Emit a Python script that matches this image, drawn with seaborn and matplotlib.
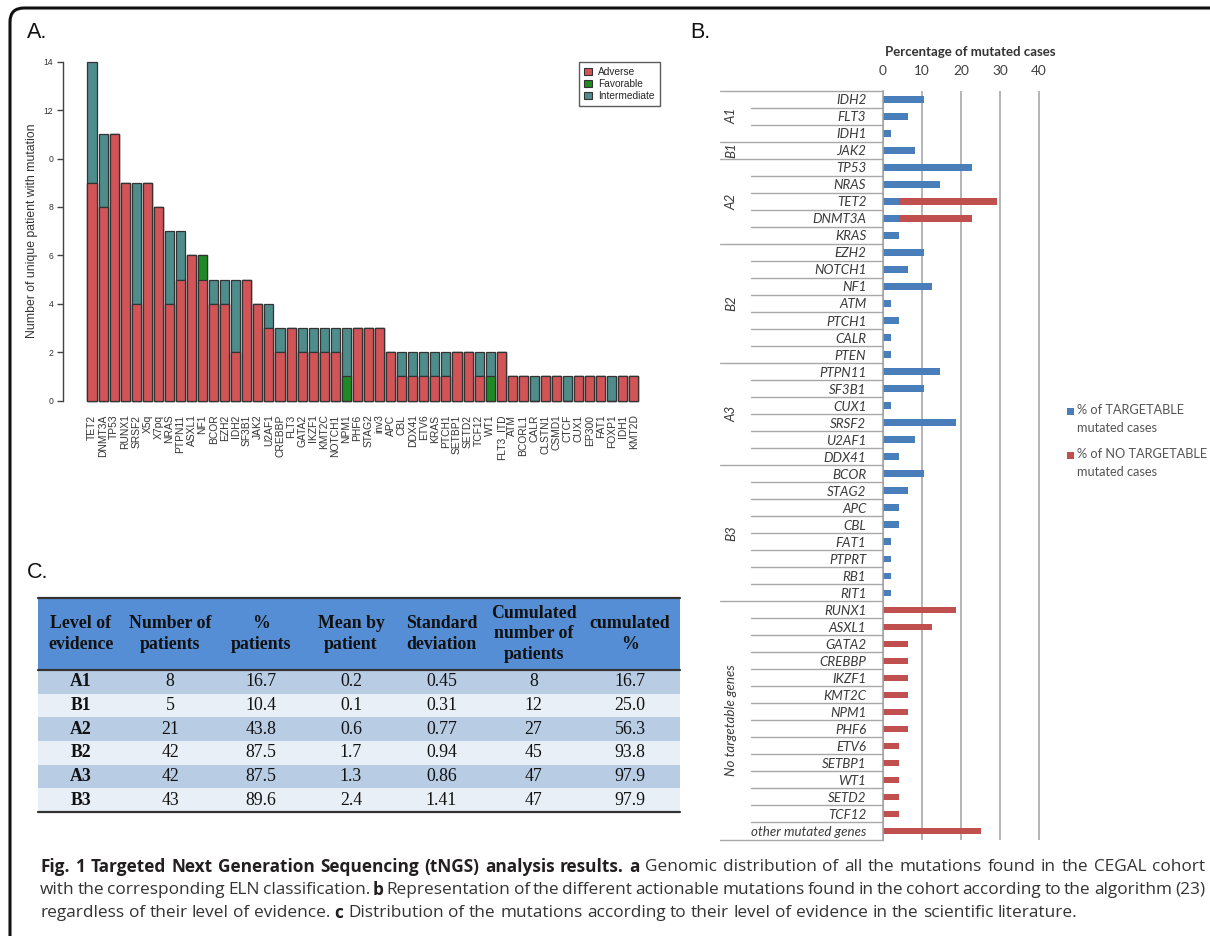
import numpy as np
import pandas as pd
import matplotlib
matplotlib.use("Agg")
import matplotlib.pyplot as plt
import seaborn as sns
from matplotlib.patches import Patch, FancyBboxPatch, Rectangle
from matplotlib.transforms import blended_transform_factory, IdentityTransform

sns.set_style("white")
plt.rcParams['font.family'] = ['Liberation Sans', 'DejaVu Sans']

W, H = 1210, 936

# ---------------- panel A data (number of unique patients per gene)
genes_a = ["TET2", "DNMT3A", "TP53", "RUNX1", "SRSF2", "X5q", "X7pq", "NRAS", "PTPN11", "ASXL1",
           "NF1", "BCOR", "EZH2", "IDH2", "SF3B1", "JAK2", "U2AF1", "CREBBP", "FLT3", "GATA2",
           "IKZF1", "KMT2C", "NOTCH1", "NPM1", "PHF6", "STAG2", "inv3", "APC", "CBL", "DDX41",
           "ETV6", "KRAS", "PTCH1", "SETBP1", "SETD2", "TCF12", "WT1", "FLT3_ITD", "ATM", "BCORL1",
           "CALR", "CLSTN1", "CSMD1", "CTCF", "CUX1", "EP300", "FAT1", "FOXP1", "IDH1", "KMT2D"]
adverse = [9, 8, 11, 9, 4, 9, 8, 4, 5, 6,
           5, 4, 4, 2, 5, 4, 3, 2, 3, 2,
           2, 2, 2, 0, 3, 3, 3, 2, 1, 1,
           1, 1, 1, 2, 2, 1, 0, 2, 1, 1,
           0, 1, 1, 0, 1, 1, 1, 0, 1, 1]
favorable = [0, 0, 0, 0, 0, 0, 0, 0, 0, 0,
             1, 0, 0, 0, 0, 0, 0, 0, 0, 0,
             0, 0, 0, 1, 0, 0, 0, 0, 0, 0,
             0, 0, 0, 0, 0, 0, 1, 0, 0, 0,
             0, 0, 0, 0, 0, 0, 0, 0, 0, 0]
intermediate = [5, 3, 0, 0, 5, 0, 0, 3, 2, 0,
                0, 1, 1, 3, 0, 0, 1, 1, 0, 1,
                1, 1, 1, 2, 0, 0, 0, 0, 1, 1,
                1, 1, 1, 0, 0, 1, 1, 0, 0, 0,
                1, 0, 0, 1, 0, 0, 0, 1, 0, 0]
yticks_a = [0, 2, 4, 6, 8, 10, 12, 14]
ytick_labels_a = ["0", "2", "4", "6", "8", "0", "12", "14"]

# ---------------- panel B data (percentage of mutated cases)
genes_b = ["IDH2", "FLT3", "IDH1", "JAK2", "TP53", "NRAS", "TET2", "DNMT3A", "KRAS",
           "EZH2", "NOTCH1", "NF1", "ATM", "PTCH1", "CALR", "PTEN",
           "PTPN11", "SF3B1", "CUX1", "SRSF2", "U2AF1", "DDX41",
           "BCOR", "STAG2", "APC", "CBL", "FAT1", "PTPRT", "RB1", "RIT1",
           "RUNX1", "ASXL1", "GATA2", "CREBBP", "IKZF1", "KMT2C", "NPM1", "PHF6",
           "ETV6", "SETBP1", "WT1", "SETD2", "TCF12", "other mutated genes"]
targetable = [10.4, 6.3, 2.1, 8.3, 22.9, 14.6, 4.2, 4.2, 4.2,
              10.4, 6.3, 12.5, 2.1, 4.2, 2.1, 2.1,
              14.6, 10.4, 2.1, 18.8, 8.3, 4.2,
              10.4, 6.3, 4.2, 4.2, 2.1, 2.1, 2.1, 2.1,
              0, 0, 0, 0, 0, 0, 0, 0, 0, 0, 0, 0, 0, 0]
not_targetable = [0, 0, 0, 0, 0, 0, 25.0, 18.7, 0,
                  0, 0, 0, 0, 0, 0, 0,
                  0, 0, 0, 0, 0, 0,
                  0, 0, 0, 0, 0, 0, 0, 0,
                  18.8, 12.5, 6.3, 6.3, 6.3, 6.3, 6.3, 6.3,
                  4.2, 4.2, 4.2, 4.2, 4.2, 25.0]
group_names = ["A1", "B1", "A2", "B2", "A3", "B3", "No targetable genes"]
group_sizes = [3, 1, 5, 7, 6, 8, 14]
legend_b = ["% of TARGETABLE\nmutated cases", "% of NO TARGETABLE\nmutated cases"]

# ---------------- panel C data
table_header = ["Level of\nevidence", "Number of\npatients", "%\npatients", "Mean by\npatient",
                "Standard\ndeviation", "Cumulated\nnumber of\npatients", "cumulated\n%"]
levels = ["A1", "B1", "A2", "B2", "A3", "B3"]
n_patients = [8, 5, 21, 42, 42, 43]
pct_patients = [16.7, 10.4, 43.8, 87.5, 87.5, 89.6]
mean_by_patient = [0.2, 0.1, 0.6, 1.7, 1.3, 2.4]
std_dev = [0.45, 0.31, 0.77, 0.94, 0.86, 1.41]
cum_patients = [8, 12, 27, 45, 47, 47]
cum_pct = [16.7, 25.0, 56.3, 93.8, 97.9, 97.9]

c_adv, c_fav, c_int = "#d35457", "#1f8a23", "#4f8d8c"
c_blue, c_red = "#4a7ebb", "#c0504d"


def px_axes(left, top, right, bottom):
    return [left / W, 1 - bottom / H, (right - left) / W, (bottom - top) / H]


fig = plt.figure(figsize=(W / 100, H / 100), dpi=100)

# outer rounded frame
frame = FancyBboxPatch((10, -30), 1240, 958, boxstyle="round,pad=0,rounding_size=14",
                       transform=IdentityTransform(), fill=False, lw=2.2, ec="#111")
fig.add_artist(frame)

# ---------------- A
axa = fig.add_axes(px_axes(63, 61.7, 650, 400.7))
adv = np.array(adverse)
fav = np.array(favorable)
inter = np.array(intermediate)
bar_kw = dict(width=0.82, saturation=1, edgecolor="#333333", linewidth=0.9, ax=axa)
sns.barplot(x=genes_a, y=adv + fav + inter, color=c_int, **bar_kw)
sns.barplot(x=genes_a, y=adv + fav, color=c_fav, **bar_kw)
sns.barplot(x=genes_a, y=adv, color=c_adv, **bar_kw)
axa.set_xlim(-2.62, 50.45)
axa.set_ylim(0, 14)
for s in ["top", "right", "bottom"]:
    axa.spines[s].set_visible(False)
axa.spines["left"].set_color("#444")
axa.spines["left"].set_linewidth(1)
axa.set_yticks(yticks_a)
axa.set_yticklabels(ytick_labels_a, fontsize=6.2, color="#333")
axa.tick_params(axis="y", length=4, width=1, color="#444", left=True, pad=3)
axa.tick_params(axis="x", length=0, pad=10)
plt.setp(axa.get_xticklabels(), rotation=90, fontsize=7.4, color="#333")
axa.set_ylabel("Number of unique patient with mutation", fontsize=8.8, color="#333", labelpad=4)
for p in axa.patches:
    p.set_clip_on(False)
leg_a = axa.legend(handles=[Patch(fc=c_adv, ec="#333", lw=0.8, label="Adverse"),
                            Patch(fc=c_fav, ec="#333", lw=0.8, label="Favorable"),
                            Patch(fc=c_int, ec="#333", lw=0.8, label="Intermediate")],
                   loc="upper right", bbox_to_anchor=(660 / W, 1 - 62 / H),
                   bbox_transform=fig.transFigure, fontsize=7.3, frameon=True, fancybox=False,
                   handlelength=0.8, handleheight=0.8, handletextpad=0.6, labelspacing=0.2,
                   borderpad=0.5, borderaxespad=0)
leg_a.get_frame().set_edgecolor("#333")
leg_a.get_frame().set_linewidth(1)

# ---------------- B
x_max = 40.3
px_per_unit = 3.9
axes_w = px_per_unit * x_max
axb = fig.add_axes(px_axes(883, 90.8, 883 + axes_w, 839.5))
total_b = np.array(targetable) + np.array(not_targetable)
sns.barplot(y=genes_b, x=total_b, orient="h", color=c_red, width=0.38, saturation=1,
            linewidth=0, ax=axb)
sns.barplot(y=genes_b, x=targetable, orient="h", color=c_blue, width=0.38, saturation=1,
            linewidth=0, ax=axb)
n_b = len(genes_b)
axb.set_xlim(0, x_max)
axb.set_ylim(n_b - 0.5, -0.5)
axb.set_xticks([0, 10, 20, 30, 40])
axb.grid(axis="x", color="#a0a0a0", lw=1.1)
axb.set_axisbelow(True)
for s in ["top", "right", "bottom"]:
    axb.spines[s].set_visible(False)
axb.spines["left"].set_color("#a0a0a0")
axb.spines["left"].set_linewidth(1.1)
axb.tick_params(axis="x", top=True, labeltop=True, bottom=False, labelbottom=False,
                length=0, pad=10, labelsize=9.8, labelcolor="#404040")
axb.tick_params(axis="y", length=0, pad=12)
for lab in axb.get_xticklabels():
    lab.set_fontfamily("Lato")
for lab in axb.get_yticklabels():
    lab.set_fontfamily("Lato")
    lab.set_fontstyle("italic")
    lab.set_fontsize(9.6)
    lab.set_color("#3a3a3a")
axb.set_xlabel("")
axb.set_ylabel("")

# row / group separators and group labels
tr = blended_transform_factory(axb.transAxes, axb.transData)
x_group = (720 - 883) / axes_w
x_row = (751 - 883) / axes_w
bounds = np.cumsum([0] + group_sizes)
for i in range(n_b + 1):
    xs = x_group if i in bounds else x_row
    axb.plot([xs, 0], [i - 0.5, i - 0.5], color="#a8a8a8", lw=1, transform=tr, clip_on=False)
for name, start, size in zip(group_names, bounds[:-1], group_sizes):
    axb.text((731 - 883) / axes_w, start + (size - 1) / 2, name, transform=tr, rotation=90,
             ha="center", va="center", fontstyle="italic", fontsize=9.6, color="#3a3a3a",
             fontfamily="Lato")
fig.text(970 / W, 1 - 52 / H, "Percentage of mutated cases", ha="center", va="center",
         fontsize=9.5, fontweight="bold", color="#333", fontfamily="Lato")

# legend of panel B: square aligned with first text line
for (label, col), ly in zip(zip(legend_b, [c_blue, c_red]), [411, 455]):
    fig.add_artist(Rectangle((1067, H - ly - 3.5), 7, 7, transform=IdentityTransform(),
                             fc=col, ec="none"))
    fig.text(1077 / W, 1 - (ly - 7) / H, label, ha="left", va="top", fontsize=9.2,
             fontfamily="Lato", color="#555", linespacing=1.6)

# ---------------- C
axc = fig.add_axes(px_axes(38, 598, 680, 812))
axc.axis("off")
df = pd.DataFrame({
    "level": levels,
    "n": [str(v) for v in n_patients],
    "pct": [f"{v:.1f}" for v in pct_patients],
    "mean": [f"{v:.1f}" for v in mean_by_patient],
    "sd": [f"{v:.2f}" for v in std_dev],
    "cum_n": [str(v) for v in cum_patients],
    "cum_pct": [f"{v:.1f}" for v in cum_pct],
})
col_w = np.array([86, 92, 90, 90, 91, 93, 100], dtype=float)
col_w = col_w / col_w.sum()
row_colors = ["#b8cce4", "#e9eff7"] * 3
tbl = axc.table(cellText=df.values, colLabels=table_header, colWidths=col_w,
                cellLoc="center", bbox=[0, 0, 1, 1])
tbl.auto_set_font_size(False)
header_h, row_h = 72, 23.7
for (r, c), cell in tbl.get_celld().items():
    cell.set_edgecolor("none")
    cell.set_linewidth(0)
    txt = cell.get_text()
    txt.set_fontfamily(["Liberation Serif", "DejaVu Serif"])
    txt.set_color("#111")
    if r == 0:
        cell.set_height(header_h)
        cell.set_facecolor("#558ed5")
        txt.set_fontsize(12.8)
        txt.set_fontweight("bold")
        txt.set_linespacing(1.3)
    else:
        cell.set_height(row_h)
        cell.set_facecolor(row_colors[r - 1])
        txt.set_fontsize(12.8)
        if c == 0:
            txt.set_fontweight("bold")
hdr_frac = 1 - header_h / (header_h + row_h * len(levels))
for yv in [1, hdr_frac, 0]:
    axc.axhline(yv, color="#333", lw=1.6, xmin=0, xmax=1, clip_on=False)

# panel letters
for letter, (lx, ly) in {"A.": (27, 33), "B.": (690, 33), "C.": (27, 572)}.items():
    fig.text(lx / W, 1 - ly / H, letter, fontsize=15.5, ha="left", va="center", color="#111")

# ---------------- caption (justified lines with bold runs)
cap_lines = [
    [("Fig. 1 Targeted Next Generation Sequencing (tNGS) analysis results.", True), ("a", True),
     ("Genomic distribution of all the mutations found in the CEGAL cohort", False)],
    [("with the corresponding ELN classification.", False), ("b", True),
     ("Representation of the different actionable mutations found in the cohort according to the algorithm (23)", False)],
    [("regardless of their level of evidence.", False), ("c", True),
     ("Distribution of the mutations according to their level of evidence in the scientific literature.", False)],
]
cap_y = [867, 890, 913]
cap_left, cap_right = 40, 1205
cap_fs = 12.45
renderer = fig.canvas.get_renderer()


def width_of(s, bold):
    t = fig.text(0, 0, s, fontsize=cap_fs, fontfamily="Open Sans",
                 fontweight="bold" if bold else "normal")
    w = t.get_window_extent(renderer).width
    t.remove()
    return w


space_w = width_of("a a", False) - width_of("aa", False)
for li, (runs, y) in enumerate(zip(cap_lines, cap_y)):
    words = [(w, b) for s, b in runs for w in s.split(" ")]
    widths = [width_of(w, b) for w, b in words]
    if li < len(cap_lines) - 1:
        gap = (cap_right - cap_left - sum(widths)) / (len(words) - 1)
    else:
        gap = space_w
    x = cap_left
    for (w, b), wd in zip(words, widths):
        fig.text(x / W, 1 - y / H, w, fontsize=cap_fs, fontfamily="Open Sans",
                 fontweight="bold" if b else "normal", ha="left", va="center",
                 color="#231f20" if b else "#333")
        x += wd + gap

fig.savefig("out.png", dpi=100)
